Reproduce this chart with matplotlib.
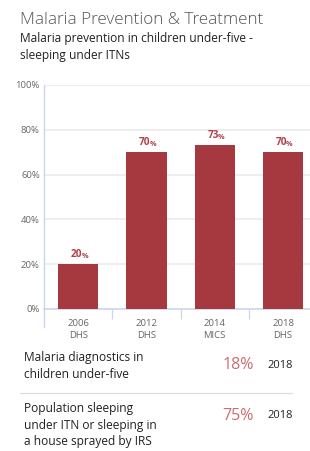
import matplotlib.pyplot as plt
import numpy as np

plt.rcParams['font.family'] = ['Open Sans', 'DejaVu Sans']

years = ["2006", "2012", "2014", "2018"]
sources = ["DHS", "DHS", "MICS", "DHS"]
values = [20, 70, 73, 70]
y_ticks = [0, 20, 40, 60, 80, 100]

extra_labels = ["Malaria diagnostics in\nchildren under-five",
                "Population sleeping\nunder ITN or sleeping in\na house sprayed by IRS"]
extra_values = ["18%", "75%"]
extra_years = ["2018", "2018"]

W, H = 310, 451
fig = plt.figure(figsize=(W / 100, H / 100), dpi=100)

bar_color = "#a63840"
label_color = "#b0414a"
axis_color = "#ccd6eb"


def px(x, y):
    # pixel coords (top-left origin) -> figure fraction
    return x / W, 1 - y / H


# titles
fig.text(*px(20, 20), "Malaria Prevention & Treatment", fontsize=12.3,
         color="#555555", va="center", ha="left", fontweight="light")
fig.text(*px(20, 47), "Malaria prevention in children under-five -\nsleeping under ITNs",
         fontsize=8.6, color="#222222", va="center", ha="left", linespacing=1.45)

# chart area
left, top, bottom = 44, 85, 309
band = 68.3
ax = fig.add_axes([left / W, 1 - bottom / H, 4 * band / W, (bottom - top) / H])
x = np.arange(len(values))
ax.bar(x, values, width=0.59, color=bar_color, zorder=3)
ax.set_xlim(-0.5, 3.5)
ax.set_ylim(0, 100)

ax.set_yticks(y_ticks)
ax.set_yticklabels([f"{t}%" for t in y_ticks])
ax.grid(axis="y", color="#eeeeee", linewidth=1.4, zorder=0)
ax.tick_params(axis="y", length=0, pad=3, labelsize=6.8, labelcolor="#666666")

ax.set_xticks(x)
ax.set_xticklabels([f"{y}\n{s}" for y, s in zip(years, sources)],
                   linespacing=1.35)
ax.set_xticks(np.arange(0.5, 3.5, 1), minor=True)
ax.tick_params(axis="x", which="major", length=0, pad=7.5, labelsize=6.8,
               labelcolor="#666666")
ax.tick_params(axis="x", which="minor", length=7, width=0.9, color=axis_color)

for s in ["top", "right"]:
    ax.spines[s].set_visible(False)
ax.spines["bottom"].set_color(axis_color)
ax.spines["bottom"].set_linewidth(1.2)
ax.spines["left"].set_color(axis_color)
ax.spines["left"].set_linewidth(1.0)
ax.spines["left"].set_bounds(-8, 100)
ax.set_ylim(0, 100)

for xi, v in zip(x, values):
    ax.annotate(f"{v}", (xi, v), xytext=(2.8, 3), textcoords="offset points",
                ha="right", va="bottom", fontsize=7.2, fontweight="bold",
                color=label_color)
    ax.annotate("%", (xi, v), xytext=(2.3, 3), textcoords="offset points",
                ha="left", va="bottom", fontsize=5.2, fontweight="bold",
                color=label_color)

# bottom indicators
rows_y = [366, 425]
val_y = [365, 416]
for lab, val, yr, ry, vy in zip(extra_labels, extra_values, extra_years, rows_y, val_y):
    fig.text(*px(24, ry), lab, fontsize=8.6, color="#222222", va="center",
             ha="left", linespacing=1.33)
    fig.text(*px(254, vy), val, fontsize=11.5, color="#c96d72",
             va="center", ha="right")
    fig.text(*px(267, vy), yr, fontsize=8, color="#222222",
             va="center", ha="left")

fig.add_artist(plt.Line2D([20 / W, 292 / W], [1 - 393 / H] * 2,
                          color="#dddddd", linewidth=0.9))

fig.savefig("out.png", dpi=100)
